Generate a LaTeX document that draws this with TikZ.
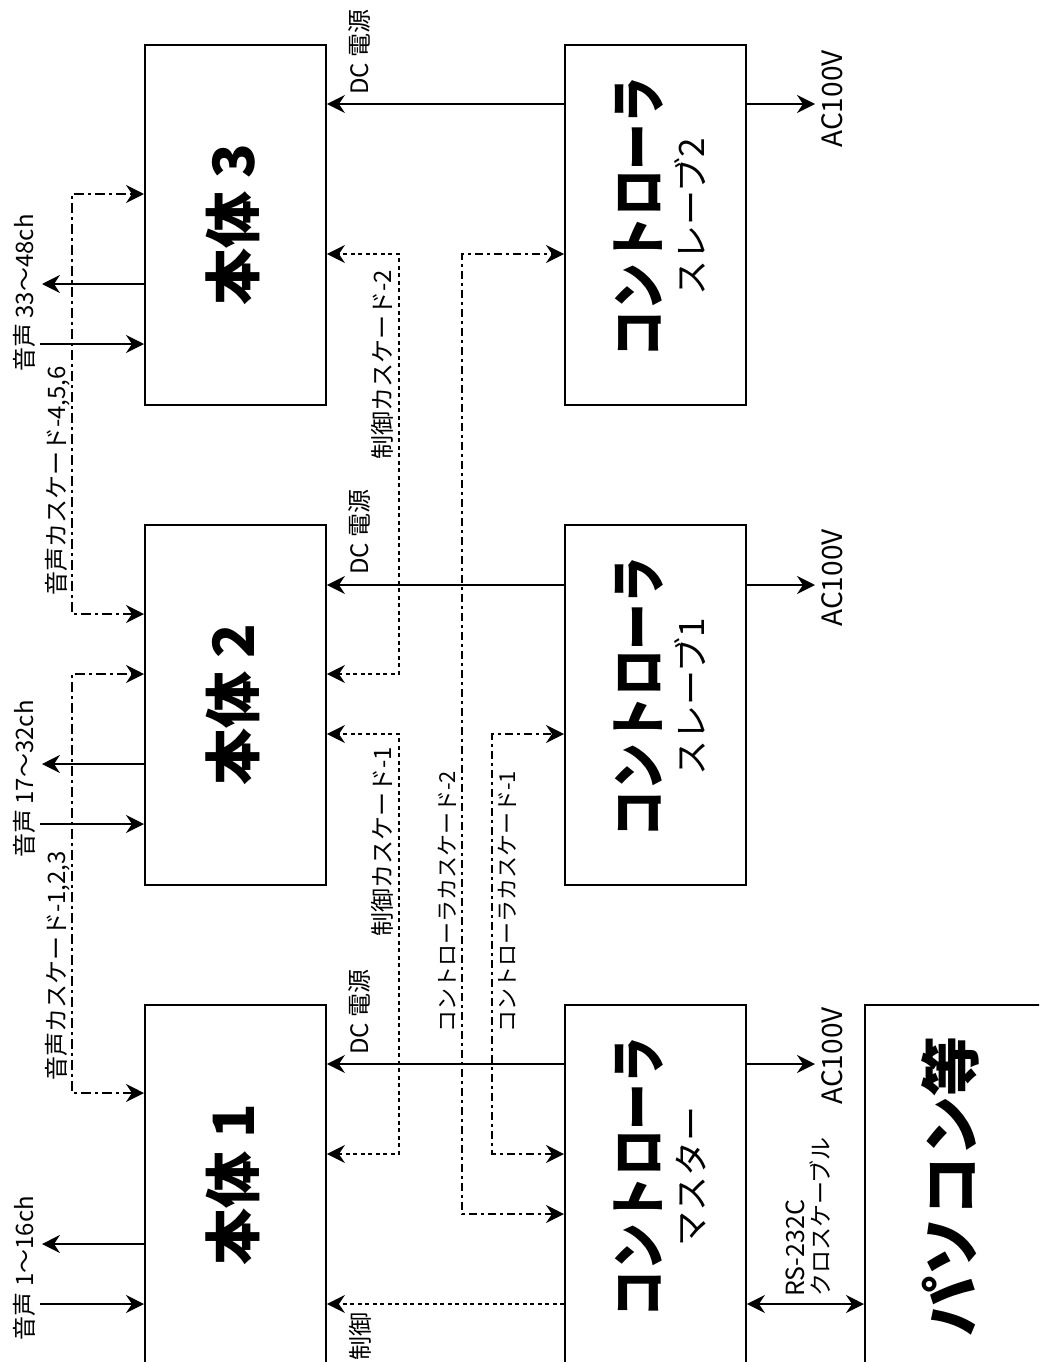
\documentclass[tikz,border=0pt]{standalone}
\usepackage{fontspec}
\setmainfont{Noto Sans CJK JP}
\newfontfamily\condfont{Noto Sans CJK JP}[FakeStretch=0.82]
\usetikzlibrary{arrows.meta}
\begin{document}
\begin{tikzpicture}[x=1pt,y=-1pt,
  box/.style={draw, line width=1.9pt, minimum width=181pt, minimum height=360pt, anchor=north west, inner sep=0pt},
  conn/.style={line width=1.9pt},
  tipA/.tip={Stealth[length=18pt,width=18pt,inset=6pt]},
  arr/.style={conn, -tipA},
  arrb/.style={conn, tipA-tipA},
  dashdotA/.style={dash pattern=on 10pt off 4pt on 3pt off 4pt},
  dashdotB/.style={dash pattern=on 8pt off 4pt on 3pt off 4pt},
  dotl/.style={dash pattern=on 4pt off 3.5pt},
  lbl/.style={rotate=90, font=\fontsize{24}{26}\selectfont, inner sep=0pt},
  lbls/.style={rotate=90, font=\fontsize{22}{24}\selectfont, inner sep=0pt},
  lblac/.style={rotate=90, font=\fontsize{28}{30}\selectfont, inner sep=0pt},
  bigt/.style={rotate=90, font=\bfseries\fontsize{57}{60}\selectfont, inner sep=0pt},
  ctrlt/.style={rotate=90, align=center, inner sep=0pt, font=\fontsize{35}{45}\selectfont}
]
\path[use as bounding box, clip] (0,0) rectangle (1039,1362);
\fill[white] (0,0) rectangle (1039,1362);

% boxes
\node[box] (b3) at (144,44) {};
\node[box] (b2) at (144,524) {};
\node[box] (b1) at (144,1004) {};
\node[box] (c2) at (564,44) {};
\node[box] (c1) at (564,524) {};
\node[box] (cm) at (564,1004) {};
\node[box, minimum width=190pt] (pc) at (864,1004) {};

% box texts
\node[bigt] at ([xshift=-3pt]b3.center) {本体 3};
\node[bigt] at ([xshift=-3pt]b2.center) {本体 2};
\node[bigt] at ([xshift=-3pt]b1.center) {本体 1};
\node[ctrlt] at ([xshift=4pt,yshift=8pt]c2.center) {{\condfont\bfseries\fontsize{57}{60}\selectfont コントローラ}\\スレーブ2};
\node[ctrlt] at ([xshift=4pt,yshift=8pt]c1.center) {{\condfont\bfseries\fontsize{57}{60}\selectfont コントローラ}\\スレーブ1};
\node[ctrlt] at ([xshift=4pt,yshift=8pt]cm.center) {{\condfont\bfseries\fontsize{57}{60}\selectfont コントローラ}\\マスター};
\node[rotate=90, inner sep=0pt, font=\bfseries\fontsize{60}{64}\selectfont] at (950,1186) {パソコン等};

% audio in/out
\coordinate (a3in) at (40,344);  \coordinate (a3out) at (42,284);
\coordinate (a2in) at (40,824);  \coordinate (a2out) at (42,764);
\coordinate (a1in) at (40,1304); \coordinate (a1out) at (42,1244);
\draw[arr] (a3in) -- (b3.west |- a3in);
\draw[arr] (b3.west |- a3out) -- (a3out);
\draw[arr] (a2in) -- (b2.west |- a2in);
\draw[arr] (b2.west |- a2out) -- (a2out);
\draw[arr] (a1in) -- (b1.west |- a1in);
\draw[arr] (b1.west |- a1out) -- (a1out);

% audio cascades
\draw[arrb, dashdotA] (b1.west |- 0,1093) -- ++(-72,0) |- (b2.west |- 0,674);
\draw[arrb, dashdotA] (b2.west |- 0,614) -- ++(-72,0) |- (b3.west |- 0,194);

% DC power
\draw[arr] (c2.west |- 0,104) -- (b3.east |- 0,104);
\draw[arr] (c1.west |- 0,585) -- (b2.east |- 0,585);
\draw[arr] (cm.west |- 0,1064) -- (b1.east |- 0,1064);

% AC100V
\coordinate (ac2) at (815,104);
\coordinate (ac1) at (815,585);
\coordinate (acm) at (815,1064);
\draw[arr] (c2.east |- ac2) -- (ac2);
\draw[arr] (c1.east |- ac1) -- (ac1);
\draw[arr] (cm.east |- acm) -- (acm);

% control
\draw[arr, dotl] (cm.west |- 0,1304) -- (b1.east |- 0,1304);
\draw[arrb, dotl] (b1.east |- 0,1154) -- ++(72,0) |- (b2.east |- 0,734);
\draw[arrb, dotl] (b2.east |- 0,674) -- ++(72,0) |- (b3.east |- 0,254);

% controller cascades
\draw[arrb, dashdotB] (cm.west |- 0,1154) -- ++(-72,0) |- (c1.west |- 0,734);
\draw[arrb, dashdotB] (cm.west |- 0,1214) -- ++(-102,0) |- (c2.west |- 0,254);

% RS-232C
\draw[arrb] (cm.east |- 0,1304) -- (pc.west |- 0,1304);

% labels
\node[lbl] at (24,293) {音声 33～48ch};
\node[lbl] at (24,779) {音声 17～32ch};
\node[lbl] at (24,1268) {音声 1～16ch};
\node[lbl] at (58,481) {音声カスケード-4,5,6};
\node[lbl] at (58,966) {音声カスケード-1,2,3};
\node[lbl] at (359,52) {DC 電源};
\node[lbl] at (359,532) {DC 電源};
\node[lbl] at (359,1012) {DC 電源};
\node[lbl] at (360,1336) {制御};
\node[lbl] at (382,365) {制御カスケード-2};
\node[lbl] at (382,842) {制御カスケード-1};
\node[lbls] at (447,902) {コントローラカスケード-2};
\node[lbls] at (507,902) {コントローラカスケード-1};
\node[lblac] at (832,99) {AC100V};
\node[lblac] at (832,578) {AC100V};
\node[lblac] at (832,1056) {AC100V};
\node[rotate=90, inner sep=0pt, anchor=north west, align=left, font=\fontsize{23}{25}\selectfont] at (786,1297) {{\fontsize{25}{25}\selectfont RS-232C}\\クロスケーブル};
\end{tikzpicture}
\end{document}
